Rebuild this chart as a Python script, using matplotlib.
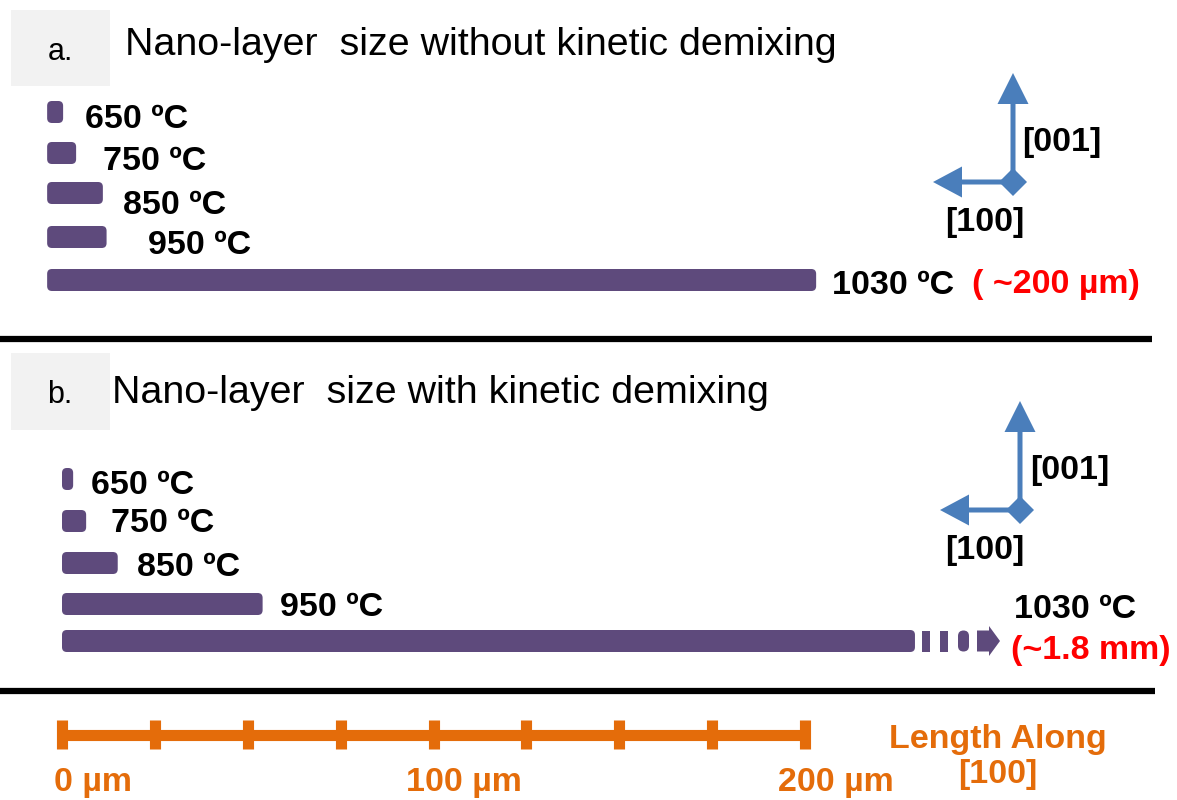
import matplotlib
matplotlib.use("Agg")
import matplotlib.pyplot as plt
from matplotlib.patches import FancyBboxPatch, Rectangle, Polygon, FancyArrow

# ---------------- data ----------------
temps = ["650 ºC", "750 ºC", "850 ºC", "950 ºC", "1030 ºC"]
# nano-layer length along [100] (µm)
len_without = [4.3, 7.8, 15.0, 16.0, 207.0]
len_with = [3.0, 6.5, 15.0, 54.0, 229.6]   # last one continues (broken) to ~1.8 mm
note_without = "( ~200 µm)"
note_with = "(~1.8 mm)"
scale_ticks = [0, 25, 50, 75, 100, 125, 150, 175, 200]
scale_labels = {0: "0 µm", 100: "100 µm", 200: "200 µm"}

# ---------------- layout ----------------
W, H = 1177, 800
X0 = 62.0          # pixel of 0 µm
PX = 3.715         # pixels per µm
PURPLE = "#5E4A7C"
BLUE = "#4A7EBB"
ORANGE = "#E46C0A"
RED = "#FF0000"
FONT = "Liberation Sans"
BFS = 24.5

fig = plt.figure(figsize=(W / 100, H / 100), dpi=100)
ax = fig.add_axes([0, 0, 1, 1])          # x in µm, y in px
ax.set_xlim(-X0 / PX, (W - X0) / PX)
ax.set_ylim(H, 0)
ax.axis("off")
ov = fig.add_axes([0, 0, 1, 1])          # overlay in pixels for text/decorations
ov.set_xlim(0, W)
ov.set_ylim(H, 0)
ov.axis("off")
ov.patch.set_alpha(0)


def bar(start, length, yc, h=22):
    p = FancyBboxPatch((start, yc - h / 2), length, h,
                       boxstyle="round,pad=0,rounding_size=1.3",
                       mutation_aspect=PX, fc=PURPLE, ec="none", zorder=3)
    ax.add_patch(p)


bold = dict(fontfamily=FONT, fontweight="bold", fontsize=BFS, va="center")


def arrows_at(ox, oy):
    ov.add_patch(FancyArrow(ox, oy, 0, -109, width=5, head_width=31,
                            head_length=31, length_includes_head=True,
                            fc=BLUE, ec="none", zorder=4))
    ov.add_patch(FancyArrow(ox, oy, -80, 0, width=5, head_width=31,
                            head_length=29, length_includes_head=True,
                            fc=BLUE, ec="none", zorder=4))
    d = 14
    ov.add_patch(Polygon([(ox, oy - d), (ox + d, oy), (ox, oy + d), (ox - d, oy)],
                         closed=True, fc=BLUE, ec="none", zorder=5))


# ---------------- panel a ----------------
ov.add_patch(Rectangle((11, 10), 99, 76, fc="#F2F2F2", ec="none"))
ov.text(60, 52, "a.", fontfamily=FONT, fontsize=22, ha="center", va="center")
ov.text(125, 45, "Nano-layer  size without kinetic demixing", fontfamily=FONT,
        fontsize=28.4, ha="left", va="center")

ya = [112, 153, 193, 237, 280]
start_a = -4.0
for L, y in zip(len_without, ya):
    bar(start_a, L, y)
lab_xa = [85, 103, 123, 148, 832]
lab_ya = [120, 162, 205, 246, 285]
for t, x, y in zip(temps, lab_xa, lab_ya):
    ov.text(x, y, t, ha="left", **bold)
ov.text(972, 285, note_without, ha="left", color=RED, **bold)

arrows_at(1013, 182)
ov.text(1022, 143, "[001]", ha="left", **bold)
ov.text(945, 222, "[100]", ha="left", **bold)

# divider
ov.plot([0, 1152], [339, 339], color="black", lw=4.5, solid_capstyle="butt")

# ---------------- panel b ----------------
ov.add_patch(Rectangle((11, 353), 99, 77, fc="#F2F2F2", ec="none"))
ov.text(60, 395, "b.", fontfamily=FONT, fontsize=22, ha="center", va="center")
ov.text(112, 393, "Nano-layer  size with kinetic demixing", fontfamily=FONT,
        fontsize=28.4, ha="left", va="center")

yb = [479, 521, 563, 604, 641]
for L, y in zip(len_with, yb):
    bar(0.0, L, y)

# broken continuation of 1030 ºC bar (in µm coordinates)
yc = yb[-1]
for a_px, b_px in [(922, 930), (940, 948)]:
    ax.add_patch(Rectangle(((a_px - X0) / PX, yc - 10.5), (b_px - a_px) / PX, 21,
                           fc=PURPLE, ec="none"))
ax.add_patch(FancyBboxPatch(((958 - X0) / PX, yc - 10.5), (969 - 958) / PX, 21,
                            boxstyle="round,pad=0,rounding_size=1.5",
                            mutation_aspect=PX, fc=PURPLE, ec="none"))
ax.add_patch(FancyArrow((977 - X0) / PX, yc, (1000 - 977) / PX, 0, width=21,
                        head_width=30, head_length=11 / PX,
                        length_includes_head=True, fc=PURPLE, ec="none"))

lab_xb = [91, 111, 137, 280, 1075]
lab_yb = [486, 524, 568, 607, 610]
for i, (t, x, y) in enumerate(zip(temps, lab_xb, lab_yb)):
    ov.text(x, y, t, ha="center" if i == 4 else "left", **bold)
ov.text(1091, 651, note_with, ha="center", color=RED, **bold)

arrows_at(1020, 510)
ov.text(1030, 470, "[001]", ha="left", **bold)
ov.text(945, 550, "[100]", ha="left", **bold)

ov.plot([0, 1155], [691, 691], color="black", lw=4.5, solid_capstyle="butt")

# ---------------- scale bar ----------------
ax.plot([scale_ticks[0], scale_ticks[-1]], [735, 735], color=ORANGE, lw=8,
        solid_capstyle="butt")
ax.vlines(scale_ticks, 720, 749, color=ORANGE, lw=8)
for v, t in scale_labels.items():
    ax.annotate(t, (v, 783), xytext=(22, 0), textcoords="offset points",
                ha="center", va="center", color=ORANGE, fontfamily=FONT,
                fontweight="bold", fontsize=BFS)
ov.text(998, 757, "Length Along\n[100]", ha="center", va="center", color=ORANGE,
        fontfamily=FONT, fontweight="bold", fontsize=BFS, linespacing=1.2)

fig.savefig("out.png", dpi=100)
